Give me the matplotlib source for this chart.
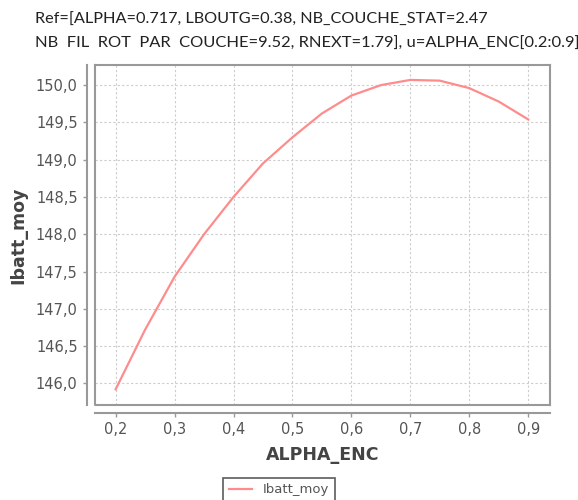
import matplotlib
matplotlib.use("Agg")
import matplotlib.pyplot as plt
from matplotlib.ticker import FuncFormatter, MultipleLocator

# data
alpha_enc = [0.20, 0.25, 0.30, 0.35, 0.40, 0.45, 0.50, 0.55,
             0.60, 0.65, 0.70, 0.75, 0.80, 0.85, 0.90]
ibatt_moy = [145.92, 146.72, 147.43, 148.00, 148.50, 148.95, 149.30, 149.62,
             149.86, 150.00, 150.07, 150.06, 149.96, 149.78, 149.54]

title_lines = ["Ref=[ALPHA=0.717, LBOUTG=0.38, NB_COUCHE_STAT=2.47",
               "NB  FIL  ROT  PAR  COUCHE=9.52, RNEXT=1.79], u=ALPHA_ENC[0.2:0.9]"]

GRAY = "#999999"
TXT = "#555555"

fig = plt.figure(figsize=(5.78, 5.0), dpi=100)
ax = fig.add_axes([95 / 578, 95 / 500, 455 / 578, 340 / 500])

ax.plot(alpha_enc, ibatt_moy, color="#ff8c8c", lw=1.6, label="Ibatt_moy")
ax.set_xlim(0.165, 0.937)
ax.set_ylim(145.71, 150.27)
ax.xaxis.set_major_locator(MultipleLocator(0.1))
ax.yaxis.set_major_locator(MultipleLocator(0.5))
ax.xaxis.set_major_formatter(FuncFormatter(lambda v, p: f"{v:.1f}".replace(".", ",")))
ax.yaxis.set_major_formatter(FuncFormatter(lambda v, p: f"{v:.1f}".replace(".", ",")))

ax.grid(True, color="#cccccc", ls=(0, (2, 2)), lw=0.8)

# frame around plot area + offset axis lines
for s in ["top", "right"]:
    ax.spines[s].set_color(GRAY)
    ax.spines[s].set_linewidth(1.5)
for s in ["left", "bottom"]:
    ax.spines[s].set_position(("outward", 6))
    ax.spines[s].set_color(GRAY)
    ax.spines[s].set_linewidth(1.5)
ax.plot([0, 0, 1], [1, 0, 0], transform=ax.transAxes, color=GRAY, lw=1.5, clip_on=False)

ax.tick_params(colors=GRAY, labelcolor=TXT, labelsize=10.5, length=3, width=1)
ax.set_xlabel("ALPHA_ENC", fontsize=12.5, fontweight="bold", color="#444444", labelpad=6)
ax.set_ylabel("Ibatt_moy", fontsize=12.5, fontweight="bold", color="#444444", labelpad=6)

# two-line title, stretched to the reference widths (450 px and 540 px)
renderer = fig.canvas.get_renderer()
for line, ypx, wpx in [(title_lines[0], 20, 450), (title_lines[1], 44, 540)]:
    t = fig.text(35 / 578, 1 - ypx / 500, line, fontsize=10, family="Lato",
                 color="#222222", va="center")
    w = t.get_window_extent(renderer).width
    t.set_fontsize(10 * wpx / w)

leg = fig.legend(loc="center", bbox_to_anchor=(279 / 578, 1 - 490 / 500), frameon=True,
                 fancybox=False, edgecolor="#333333", fontsize=9.5, handlelength=1.8,
                 borderpad=0.4)
leg.get_frame().set_linewidth(1.2)
for t in leg.get_texts():
    t.set_color(TXT)

fig.savefig("out.png", dpi=100)
